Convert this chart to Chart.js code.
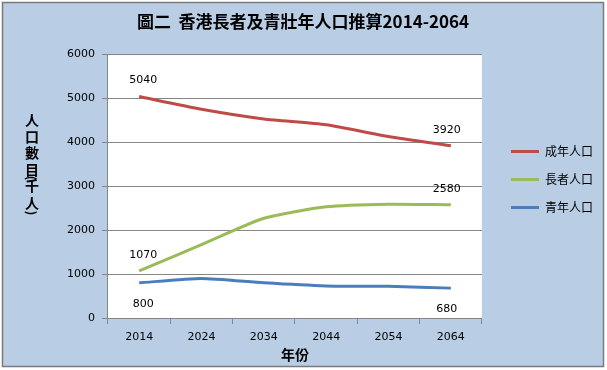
<!DOCTYPE html>
<html>
<head>
<meta charset="utf-8">
<script src="https://cdn.jsdelivr.net/npm/chart.js@4.4.1/dist/chart.umd.min.js"></script>
<style>
  html, body { margin: 0; padding: 0; background: #fff; }
  #wrap { position: relative; width: 607px; height: 370px; }
</style>
</head>
<body>
<div id="wrap"><canvas id="popChart" width="607" height="370"></canvas></div>
<script>
// ── data ──
const years      = ['2014', '2024', '2034', '2044', '2054', '2064'];
const adultPop   = [5040, 4750, 4530, 4400, 4130, 3920];
const elderlyPop = [1070, 1670, 2270, 2530, 2590, 2580];
const youthPop   = [800, 900, 800, 730, 720, 680];
const yTicks     = [0, 1000, 2000, 3000, 4000, 5000, 6000];

const titleText  = '圖二  香港長者及青壯年人口推算2014-2064';
const yTitle     = '人口數目(千人)';
const xTitle     = '年份';

const tickFont   = { family: '"DejaVu Sans", Verdana, sans-serif', size: 11 };
const cjkFont    = '"Noto Sans CJK TC", "Noto Sans CJK SC", sans-serif';
const gridCol    = '#868686';

// background, frame and white plot area
const backdrop = {
    id: 'backdrop',
    beforeDraw(chart) {
        const { ctx, chartArea: a } = chart;
        ctx.save();
        ctx.fillStyle = '#b9cde5';
        ctx.fillRect(2, 2, 602, 365);
        ctx.strokeStyle = '#7a7a7a';
        ctx.lineWidth = 1.5;
        ctx.strokeRect(2.5, 2.5, 601, 364);
        ctx.fillStyle = '#ffffff';
        ctx.fillRect(a.left, a.top, a.right - a.left, a.bottom - a.top);
        ctx.restore();
    }
};

// stacked vertical y axis title
const stackedTitle = {
    id: 'stackedTitle',
    afterDraw(chart) {
        const ctx = chart.ctx;
        ctx.save();
        ctx.font = 'bold 14px ' + cjkFont;
        ctx.fillStyle = '#000';
        ctx.textAlign = 'center';
        ctx.textBaseline = 'middle';
        let y = 120;
        for (const ch of yTitle) {
            if (ch === '(' || ch === ')') {
                const py = ch === '(' ? y - 8 : y - 6;
                ctx.save();
                ctx.font = 'bold 12px ' + cjkFont;
                ctx.translate(32, py);
                ctx.rotate(Math.PI / 2);
                ctx.fillText(ch, 0, 0);
                ctx.restore();
                continue;
            }
            ctx.fillText(ch, 32, y);
            y += 16.5;
        }
        ctx.restore();
    }
};

// value labels at the first and last point of each line
const endLabels = {
    id: 'endLabels',
    afterDatasetsDraw(chart) {
        const ctx = chart.ctx;
        ctx.save();
        ctx.font = '11px "DejaVu Sans", Verdana, sans-serif';
        ctx.fillStyle = '#000';
        ctx.textAlign = 'center';
        ctx.textBaseline = 'middle';
        chart.data.datasets.forEach((ds, i) => {
            const meta = chart.getDatasetMeta(i);
            const below = ds.labelBelow;
            [0, ds.data.length - 1].forEach(j => {
                const pt = meta.data[j];
                const dx = j === 0 ? 4 : -4;
                const dy = below ? 21 : -16;
                ctx.fillText(String(ds.data[j]), pt.x + dx, pt.y + dy);
            });
        });
        ctx.restore();
    }
};

// title centred on the whole frame, legend nudged away from the plot
const boxShift = {
    id: 'boxShift',
    afterLayout(chart) {
        const t = chart.titleBlock;
        if (t) { t.left = 0; t.right = 606; t.width = 606; }
        const l = chart.legend;
        if (l) {
            l.left += 13; l.right += 13;
            l.top -= 3; l.bottom -= 3;
        }
    }
};

new Chart(document.getElementById('popChart'), {
    type: 'line',
    data: {
        labels: years,
        datasets: [
            { label: '成年人口', data: adultPop,   borderColor: '#be4b48', backgroundColor: '#be4b48', labelBelow: false },
            { label: '長者人口', data: elderlyPop, borderColor: '#9bbb59', backgroundColor: '#9bbb59', labelBelow: false },
            { label: '青年人口', data: youthPop,   borderColor: '#4a7ebb', backgroundColor: '#4a7ebb', labelBelow: true }
        ].map(d => Object.assign(d, {
            borderWidth: 3,
            pointRadius: 0,
            pointHoverRadius: 0,
            tension: 0.2,
            fill: false
        }))
    },
    options: {
        responsive: false,
        animation: false,
        devicePixelRatio: 1,
        layout: { padding: { left: 60, right: 17, top: 2, bottom: 7 } },
        plugins: {
            title: {
                display: true,
                text: titleText,
                color: '#000',
                font: { family: cjkFont, size: 17, weight: 'bold' },
                padding: { top: 9, bottom: 23 }
            },
            legend: {
                position: 'right',
                labels: {
                    color: '#000',
                    font: { family: cjkFont, size: 12 },
                    usePointStyle: true,
                    pointStyle: 'line',
                    pointStyleWidth: 28,
                    padding: 16
                }
            },
            tooltip: { enabled: false }
        },
        scales: {
            x: {
                offset: true,
                grid: { offset: true, drawOnChartArea: false, color: gridCol, tickLength: 6 },
                border: { color: gridCol },
                ticks: { color: '#000', font: tickFont, padding: 7, maxRotation: 0 },
                title: {
                    display: true,
                    text: xTitle,
                    color: '#000',
                    font: { family: cjkFont, size: 14, weight: 'bold' },
                    padding: { top: -5, bottom: 0 }
                }
            },
            y: {
                min: yTicks[0],
                max: yTicks[yTicks.length - 1],
                afterBuildTicks: axis => { axis.ticks = yTicks.map(v => ({ value: v })); },
                grid: { color: gridCol, tickLength: 6 },
                border: { color: gridCol },
                ticks: { color: '#000', font: tickFont, padding: 7, callback: v => String(v) }
            }
        }
    },
    plugins: [backdrop, stackedTitle, endLabels, boxShift]
});
</script>
</body>
</html>
